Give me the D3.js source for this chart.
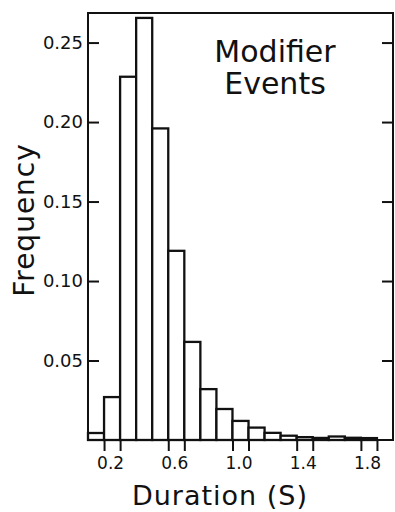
<!DOCTYPE html>
<html>
<head>
<meta charset="utf-8">
<script src="https://cdn.jsdelivr.net/npm/d3@7"></script>
<style>
  html, body { margin: 0; padding: 0; background: #fff; }
  svg { display: block; }
  text { font-family: "DejaVu Sans", sans-serif; fill: #111; }
</style>
</head>
<body>
<svg id="chart" width="395" height="512"></svg>
<script>
// ---- data ----
const binCenters = [0.1, 0.2, 0.3, 0.4, 0.5, 0.6, 0.7, 0.8, 0.9, 1.0, 1.1, 1.2, 1.3, 1.4, 1.5, 1.6, 1.7, 1.8];
const frequencies = [0.0044, 0.027, 0.2285, 0.2655, 0.196, 0.119, 0.0617, 0.032, 0.0195, 0.012, 0.0078, 0.0045, 0.0027, 0.0018, 0.0013, 0.0022, 0.0014, 0.0012];
const binWidth = 0.1;
const yTickValues = [0.05, 0.10, 0.15, 0.20, 0.25];
const yTickLabels = ["0.05", "0.10", "0.15", "0.20", "0.25"];
const xEdgeTicks = [0.15, 0.25, 0.55, 0.65, 0.95, 1.05, 1.35, 1.45, 1.75, 1.85];
const xLabelValues = [0.2, 0.6, 1.0, 1.4, 1.8];
const xLabelTexts = ["0.2", "0.6", "1.0", "1.4", "1.8"];
const titleLines = ["Modifier", "Events"];
const xTitle = "Duration (S)";
const yTitle = "Frequency";

// ---- layout ----
const svg = d3.select("#chart");
const x = d3.scaleLinear().domain([0.05, 1.95]).range([88, 393]);
const y = d3.scaleLinear().domain([0, 0.2686]).range([440, 13]);

const ink = "#111";

// bars
svg.append("g").selectAll("rect")
  .data(binCenters.map((c, i) => ({c, v: frequencies[i]})))
  .join("rect")
  .attr("x", d => x(d.c - binWidth / 2))
  .attr("width", d => x(d.c + binWidth / 2) - x(d.c - binWidth / 2))
  .attr("y", d => y(d.v))
  .attr("height", d => y(0) - y(d.v))
  .attr("fill", "#fff")
  .attr("stroke", ink)
  .attr("stroke-width", 2.3);

// frame
svg.append("rect")
  .attr("x", x.range()[0]).attr("y", y.range()[1])
  .attr("width", x.range()[1] - x.range()[0])
  .attr("height", y.range()[0] - y.range()[1])
  .attr("fill", "none").attr("stroke", ink).attr("stroke-width", 2);

// left axis (ticks inward)
const leftAxis = svg.append("g")
  .attr("transform", `translate(${x.range()[0]},0)`)
  .call(d3.axisLeft(y).tickValues(yTickValues).tickSize(-11).tickSizeOuter(0)
    .tickFormat((d, i) => yTickLabels[i]).tickPadding(5));
leftAxis.select(".domain").remove();
leftAxis.selectAll(".tick line").attr("stroke", ink).attr("stroke-width", 2);
leftAxis.selectAll(".tick text").style("font-size", "18px").style("font-family", "DejaVu Sans").style("fill", ink);

// right axis ticks (inward)
const rightAxis = svg.append("g")
  .attr("transform", `translate(${x.range()[1]},0)`)
  .call(d3.axisRight(y).tickValues(yTickValues).tickSize(-11).tickSizeOuter(0).tickFormat(""));
rightAxis.select(".domain").remove();
rightAxis.selectAll(".tick line").attr("stroke", ink).attr("stroke-width", 2);

// bottom edge ticks (outward)
const bottomTicks = svg.append("g")
  .attr("transform", `translate(0,${y(0)})`)
  .call(d3.axisBottom(x).tickValues(xEdgeTicks).tickSize(11).tickSizeOuter(0).tickFormat(""));
bottomTicks.select(".domain").remove();
bottomTicks.selectAll(".tick line").attr("stroke", ink).attr("stroke-width", 2);

// bottom labels
const bottomLabels = svg.append("g")
  .attr("transform", `translate(-2,${y(0)})`)
  .call(d3.axisBottom(x).tickValues(xLabelValues).tickSize(0).tickPadding(17)
    .tickFormat((d, i) => xLabelTexts[i]));
bottomLabels.select(".domain").remove();
bottomLabels.selectAll(".tick text").style("font-size", "17px").style("font-family", "DejaVu Sans").style("fill", ink);

// axis titles
svg.append("text")
  .attr("x", 220).attr("y", 505)
  .attr("text-anchor", "middle")
  .attr("font-size", 27)
  .attr("letter-spacing", 1)
  .text(xTitle);

svg.append("text")
  .attr("transform", "translate(34,220) rotate(-90)")
  .attr("text-anchor", "middle")
  .attr("font-size", 28)
  .attr("letter-spacing", 1)
  .text(yTitle);

// in-plot title
svg.append("g").selectAll("text")
  .data(titleLines)
  .join("text")
  .attr("x", 275)
  .attr("y", (d, i) => 62 + i * 32)
  .attr("text-anchor", "middle")
  .attr("font-size", 30)
  .text(d => d);
</script>
</body>
</html>
